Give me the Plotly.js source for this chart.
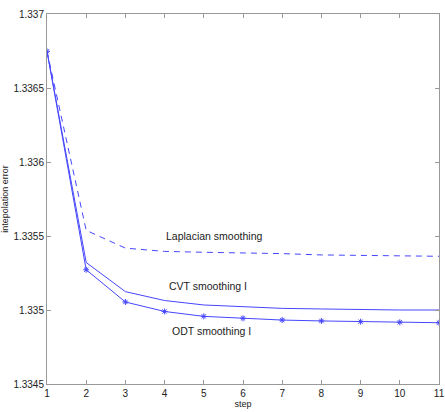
<!DOCTYPE html>
<html>
<head>
<meta charset="utf-8">
<script src="https://cdn.plot.ly/plotly-3.0.1.min.js"></script>
<style>html,body{margin:0;padding:0;background:#fff}#chart{width:445px;height:412px}</style>
</head>
<body>
<div id="chart"></div>
<script>
const steps = [1, 2, 3, 4, 5, 6, 7, 8, 9, 10, 11];
const laplacian = [1.336748, 1.335538, 1.335418, 1.335396, 1.335390, 1.335386, 1.335381, 1.335372, 1.335368, 1.335365, 1.335363];
const cvt = [1.336748, 1.335321, 1.335124, 1.335064, 1.335034, 1.335022, 1.335011, 1.335007, 1.335002, 1.335000, 1.335000];
const odt = [1.336748, 1.335272, 1.335054, 1.334990, 1.334957, 1.334944, 1.334932, 1.334926, 1.334921, 1.334917, 1.334914];
const labels = ["Laplacian smoothing", "CVT smoothing I", "ODT smoothing I"];
const labelX = [3.98, 4.05, 4.13];
const labelY = [1.335502, 1.335159, 1.334857];
const yTicks = [1.3345, 1.335, 1.3355, 1.336, 1.3365, 1.337];
const yTickText = ["1.3345", "1.335", "1.3355", "1.336", "1.3365", "1.337"];

const blue = 'rgb(70,70,255)';
const traces = [
  {x: steps, y: laplacian, mode: 'lines', line: {color: blue, width: 1, dash: '6px,5px'}},
  {x: steps, y: cvt, mode: 'lines', line: {color: blue, width: 1}},
  {x: steps, y: odt, mode: 'lines+markers', line: {color: blue, width: 1},
   marker: {symbol: 'asterisk-open', size: 5, color: blue, line: {color: blue, width: 1}}}
];
const axisCommon = {
  showgrid: false, zeroline: false, showline: true, mirror: 'ticks',
  linecolor: '#999', linewidth: 1, ticks: 'inside', ticklen: 4, tickcolor: '#999',
  tickfont: {family: 'Liberation Sans, Arial, sans-serif', size: 10, color: '#222'}
};
const layout = {
  width: 445, height: 412,
  margin: {l: 47, r: 6, t: 14, b: 28},
  paper_bgcolor: '#fff', plot_bgcolor: '#fff',
  showlegend: false,
  xaxis: Object.assign({}, axisCommon, {
    range: [1, 11], tickvals: steps, ticktext: steps.map(String),
    title: {text: 'step', standoff: 2, font: {family: 'Liberation Sans, Arial, sans-serif', size: 9, color: '#222'}}
  }),
  yaxis: Object.assign({}, axisCommon, {
    range: [1.3345, 1.337], tickvals: yTicks, ticktext: yTickText,
    title: {text: 'intepolation error', standoff: 6, font: {family: 'Liberation Sans, Arial, sans-serif', size: 9, color: '#222'}}
  }),
  annotations: labels.map((t, i) => ({
    x: labelX[i], y: labelY[i], xref: 'x', yref: 'y', text: t, showarrow: false,
    xanchor: 'left', yanchor: 'middle',
    font: {family: 'Liberation Sans, Arial, sans-serif', size: 10.5, color: '#222'}
  }))
};
Plotly.newPlot('chart', traces, layout, {displayModeBar: false, staticPlot: true});
</script>
</body>
</html>
